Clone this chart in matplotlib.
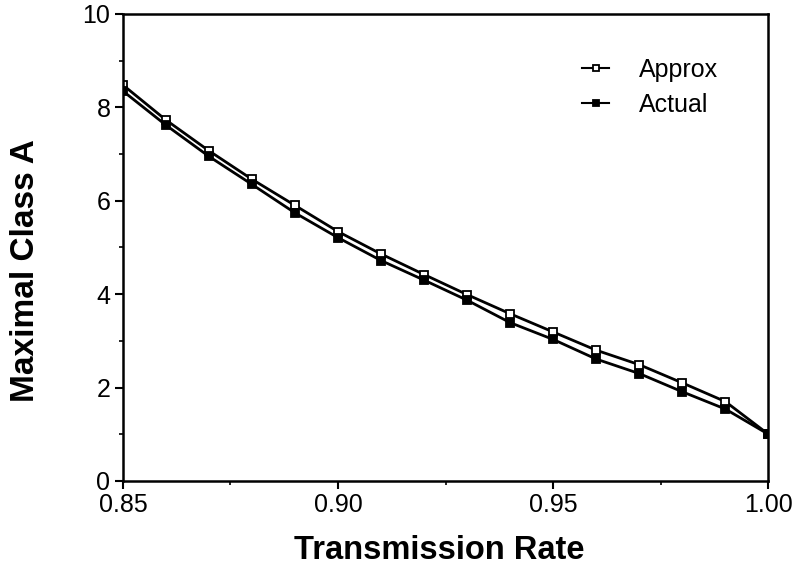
import matplotlib
matplotlib.use("Agg")
import matplotlib.pyplot as plt
from matplotlib.ticker import MultipleLocator, FixedLocator

plt.rcParams['font.family'] = ['Liberation Sans', 'DejaVu Sans']

rate = [0.85, 0.86, 0.87, 0.88, 0.89, 0.90, 0.91, 0.92, 0.93, 0.94, 0.95, 0.96, 0.97, 0.98, 0.99, 1.00]
approx = [8.48, 7.73, 7.07, 6.46, 5.90, 5.34, 4.86, 4.42, 3.99, 3.58, 3.19, 2.80, 2.49, 2.10, 1.70, 1.00]
actual = [8.35, 7.62, 6.95, 6.35, 5.74, 5.21, 4.72, 4.30, 3.87, 3.39, 3.03, 2.61, 2.30, 1.91, 1.54, 1.00]
xticks = [0.85, 0.90, 0.95, 1.00]
xtick_labels = ["0.85", "0.90", "0.95", "1.00"]
yticks = [0, 2, 4, 6, 8, 10]

fig = plt.figure(figsize=(7.93, 5.83), dpi=100)
ax = fig.add_axes([0.155, 0.175, 0.814, 0.801])

ax.plot(rate, approx, color='black', lw=2.0, marker='s', ms=5.5,
        mfc='white', mec='black', mew=1.3, label='Approx')
ax.plot(rate, actual, color='black', lw=2.0, marker='s', ms=5.5,
        mfc='black', mec='black', mew=1.3, label='Actual')

ax.set_xlim(0.85, 1.00)
ax.set_ylim(0, 10)
ax.set_xticks(xticks)
ax.set_xticklabels(xtick_labels)
ax.set_yticks(yticks)
ax.xaxis.set_minor_locator(FixedLocator([0.875, 0.925, 0.975]))
ax.yaxis.set_minor_locator(MultipleLocator(1))

for s in ax.spines.values():
    s.set_linewidth(1.8)

ax.tick_params(which='major', direction='out', length=6, width=1.5, labelsize=18, pad=3)
ax.tick_params(which='minor', direction='out', length=3, width=1.2)

ax.set_xlabel('Transmission Rate', fontsize=23.5, fontweight='bold')
ax.set_ylabel('Maximal Class A', fontsize=24, fontweight='bold')
ax.xaxis.set_label_coords(0.49, -0.116)
ax.yaxis.set_label_coords(-0.127, 0.45)

leg = ax.legend(loc='upper left', bbox_to_anchor=(0.711, 0.906), frameon=False,
                fontsize=18, handlelength=1.1, handletextpad=1.2, labelspacing=0.43,
                borderaxespad=0, borderpad=0)
for h in leg.legend_handles:
    h.set_linewidth(1.5)
    h.set_markersize(4.5)

fig.savefig('out.png', dpi=100)
